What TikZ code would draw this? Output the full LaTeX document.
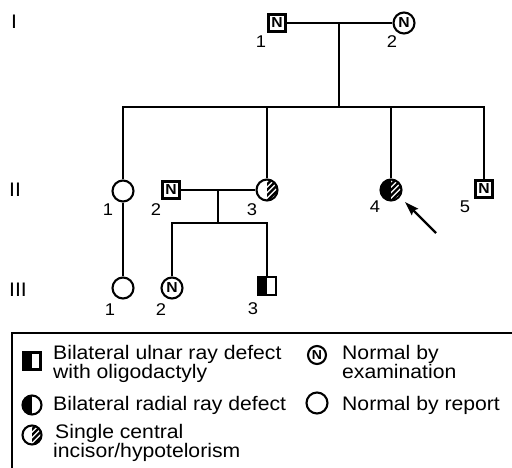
\documentclass[tikz,border=0pt]{standalone}
\usepackage{fontspec}
\setmainfont[FakeStretch=1.08]{Liberation Sans}
\usetikzlibrary{arrows.meta,calc}
\newcommand{\hatchstripes}{%
  \begin{scope}
    \clip (path picture bounding box.south) rectangle (path picture bounding box.north east);
    \foreach \k in {-4,...,4}{\draw[line width=2.4pt] ($(path picture bounding box.center)+(\k*5.5pt-12pt,-12pt)$) -- ++(24pt,24pt);}
  \end{scope}}
\tikzset{
  ln/.style={line width=2.1pt},
  sq/.style={draw, line width=2.1pt, rectangle, minimum size=17pt, inner sep=0pt, font=\fontsize{14.5}{14.5}\selectfont\bfseries},
  ci/.style={draw, line width=2.1pt, circle, minimum size=21pt, inner sep=0pt, font=\fontsize{14.5}{14.5}\selectfont\bfseries},
  leftfill/.style={path picture={\fill[black] (path picture bounding box.south west) rectangle (path picture bounding box.north);}},
  hatchR/.style={path picture={\hatchstripes}},
  lefthatch/.style={path picture={\fill[black] (path picture bounding box.south west) rectangle (path picture bounding box.north);\hatchstripes}},
  num/.style={font=\fontsize{17}{17}\selectfont, inner sep=0pt, anchor=base},
  gen/.style={font=\fontsize{19.6}{19.6}\selectfont, inner sep=0pt, anchor=base},
  leg/.style={font=\fontsize{19.6}{19.6}\selectfont, inner sep=0pt, anchor=base west},
}
\begin{document}
\begin{tikzpicture}[x=1pt,y=-1pt]
\useasboundingbox (0,0) rectangle (512,468);
% generation labels
\node[gen] (gI) at (14,29) {I};
\node[gen] (gII) at (15,197) {II};
\node[gen] (gIII) at (18,297) {III};
% generation I
\node[sq] (I1) at (277,23) {N};
\node[ci] (I2) at (404,23) {N};
\node[num] (lI1) at (261,48) {1};
\node[num] (lI2) at (392,48) {2};
% generation II
\node[ci] (II1) at (123,191) {};
\node[sq] (II2) at (171,190) {N};
\node[ci, hatchR] (II3) at (267,190) {};
\node[ci, lefthatch] (II4) at (391,190) {};
\node[sq] (II5) at (484,189) {N};
\node[num] (lII1) at (108,215) {1};
\node[num] (lII2) at (156,215) {2};
\node[num] (lII3) at (252,215) {3};
\node[num] (lII4) at (375,213) {4};
\node[num] (lII5) at (465,213) {5};
% generation III
\node[ci] (III1) at (123,288) {};
\node[ci] (III2) at (172,288) {N};
\node[sq, leftfill, minimum size=18pt] (III3) at (267,286) {};
\node[num] (lIII1) at (110,315) {1};
\node[num] (lIII2) at (161,315) {2};
\node[num] (lIII3) at (253,314) {3};
% connectors
\coordinate (m1) at (339,23);
\coordinate (s1) at (339,107);
\draw[ln] (I1) -- (I2);
\draw[ln] (m1) -- (s1);
\draw[ln] (II1) |- (s1) -| (II5);
\draw[ln] (II3) -- (II3 |- s1);
\draw[ln] (II4) -- (II4 |- s1);
\draw[ln] (II1) -- (III1);
\coordinate (m2) at (218,190);
\coordinate (s2) at (218,223);
\draw[ln] (II2) -- (II3);
\draw[ln] (m2) -- (s2);
\draw[ln] (III2) |- (s2) -| (III3);
% arrow
\coordinate (arT) at (436,233);
\coordinate (arH) at (405,202);
\draw[line width=2.2pt, -{Stealth[length=14pt,width=9pt,inset=2pt]}] (arT) -- (arH);
% legend box
\coordinate (bTR) at (516,333);
\coordinate (bTL) at (12,333);
\coordinate (bBL) at (12,472);
\draw[line width=1.6pt] (bTR) -- (bTL) -- (bBL);
% legend symbols
\node[sq, leftfill, minimum size=17pt] (lgU) at (32,361) {};
\node[ci, leftfill, minimum size=19pt] (lgR) at (32,405) {};
\node[ci, hatchR, minimum size=19pt] (lgH) at (32,435) {};
\node[ci, minimum size=18pt, font=\fontsize{13}{13}\selectfont\bfseries] (lgN) at (317,355) {N};
\node[ci, minimum size=21pt] (lgO) at (317,403) {};
% legend texts
\node[leg] (t1a) at (53,359) {Bilateral ulnar ray defect};
\node[leg] (t1b) at (53,378) {with oligodactyly};
\node[leg] (t2) at (53,410) {Bilateral radial ray defect};
\node[leg] (t3a) at (55,438) {Single central};
\node[leg] (t3b) at (53,457) {incisor/hypotelorism};
\node[leg] (t4a) at (342,359) {Normal by};
\node[leg] (t4b) at (342,378) {examination};
\node[leg] (t5) at (342,410) {Normal by report};
\end{tikzpicture}
\end{document}
